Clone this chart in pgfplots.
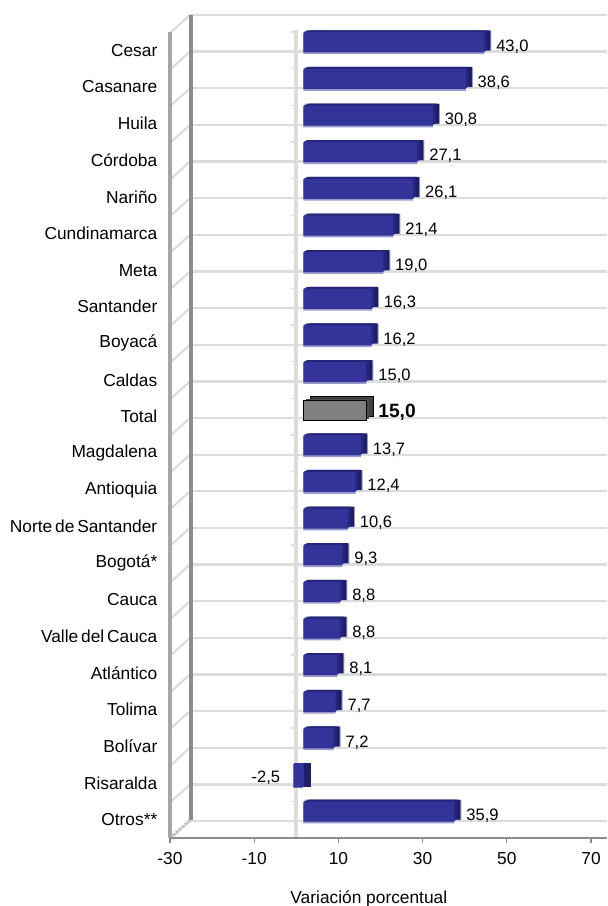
\documentclass[border=0pt]{standalone}
\usepackage{pgfplots}
\usepackage{pgfplotstable}
\usepackage{fontspec}
\setmainfont{Liberation Sans}
\pgfplotsset{compat=1.18}
\definecolor{barmain}{HTML}{333399}
\definecolor{bardark}{HTML}{25257A}
\definecolor{barside}{HTML}{1E1E66}
\definecolor{barlight}{HTML}{9999CC}
\definecolor{gridc}{HTML}{DCDCDC}
\definecolor{wall}{HTML}{8C8C8C}
\definecolor{wallb}{HTML}{A6A6A6}
\newcommand{\lblfont}{\fontsize{13}{15}\selectfont}
\newcommand{\valfont}{\fontsize{12.4}{15}\selectfont}
\pgfplotstableread{
v y
43.0 0
38.6 1
30.8 2
27.1 3
26.1 4
21.4 5
19.0 6
16.3 7
16.2 8
15.0 9
13.7 11
12.4 12
10.6 13
9.3 14
8.8 15
8.8 16
8.1 17
7.7 18
7.2 19
35.9 21
}\posdata
\pgfplotstableread{
v y
-2.5 20
}\negdata
\pgfplotstableread{
v y
15.0 10
}\totdata
\newcommand{\layer}[5][15pt]{% bar width; table, color, xshift, yshift
  \addplot[xbar, bar width=#1, draw=none, fill=#3, xshift=#4*0.75pt, yshift=#5*0.75pt, forget plot] table[x=v,y=y] {#2};}
\begin{document}
\begin{tikzpicture}[x=0.75pt,y=0.75pt]
\path[use as bounding box] (0,0) rectangle (607,906);
% back wall gridlines (py = 15 + 36.64 k)
\foreach \k in {0,...,22}{
  \pgfmathsetmacro{\py}{906-15-36.64*\k}
  \draw[gridc,line width=1.7pt] (190,\py) -- (607,\py);
  \draw[gridc,line width=1.6pt] (170,\py-18) -- (190,\py);
}
\draw[gridc!70!gray,line width=1.8pt,dash pattern=on 2pt off 1pt] (170,68) -- (190,86);
\draw[wall,line width=3pt] (190.5,891) -- (190.5,86);
\draw[gridc,line width=2.6pt] (296,876) -- (296,68);
\foreach \k in {0,...,21}{
  \pgfmathsetmacro{\py}{906-32-36.64*\k}
  \draw[gridc,line width=1pt] (291,\py) -- (296,\py);
}
\begin{axis}[
  at={(127.5pt,51pt)},anchor=south west,
  scale only axis,width=327.75pt,height=604.5pt,
  xmin=-30,xmax=73.8,ymin=-0.5,ymax=21.5,y dir=reverse,
  axis x line=bottom,axis y line=left,
  axis line style={-,wall,line width=2.2pt},
  y axis line style={-,wallb,line width=3pt},
  xtick={-30,-10,10,30,50,70},
  ytick={0,...,21},
  yticklabels={Cesar,Casanare,Huila,Córdoba,Nariño,Cundinamarca,Meta\hspace{4pt},Santander,Boyacá,Caldas,Total\hspace{5pt},Magdalena,Antioquia,Norte\,de\,Santander,Bogotá*,Cauca,Valle\,del\,Cauca,Atlántico,Tolima,Bolívar\hspace{4pt},Risaralda,Otros**},
  ytick style={draw=none},
  xtick style={wall,line width=1pt},
  tick align=outside,
  major tick length=4pt,
  /pgf/number format/assume math mode=true,
  xticklabel style={font=\lblfont,yshift=-3.5pt,/pgf/number format/fixed},
  yticklabel style={font=\lblfont,xshift=-2pt},
  xlabel={Variación porcentual},
  xlabel style={font=\lblfont,at={(axis description cs:0.455,0)},anchor=north,yshift=-36pt},
  clip=false,
  axis on top=false,
]
% positive bars
\layer{\posdata}{barlight}{7}{6.2}
\layer{\posdata}{barlight}{14}{9.5}
\layer{\posdata}{barside}{13}{10}
\layer{\posdata}{bardark}{10}{10}
\layer{\posdata}{bardark}{8}{9}
\layer{\posdata}{barmain}{7}{8}
% negative bar
\layer[18pt]{\negdata}{barside}{15}{8}
\layer[18pt]{\negdata}{barlight!60!barmain}{7}{7}
\layer[18pt]{\negdata}{barmain}{8}{8}
% total bar
\addplot[xbar,bar width=15pt,draw=black,line width=0.8pt,fill=black!75,xshift=14*0.75pt,yshift=10.5*0.75pt,forget plot] table[x=v,y=y] {\totdata};
\addplot[xbar,bar width=15pt,draw=none,fill=black!70,xshift=10*0.75pt,yshift=8*0.75pt,forget plot] table[x=v,y=y] {\totdata};
\addplot[xbar,bar width=15pt,draw=black,line width=1pt,fill=gray,xshift=7*0.75pt,yshift=6*0.75pt,forget plot] table[x=v,y=y] {\totdata};
% value labels
\pgfplotsset{vlabel/.style={only marks,mark=none,forget plot,point meta=x,nodes near coords,
  nodes near coords align={anchor=west},
  every node near coord/.append style={font=\valfont,inner sep=0pt,xshift=14pt,yshift=3pt,
    /pgf/number format/assume math mode=true,/pgf/number format/use comma,/pgf/number format/fixed,/pgf/number format/fixed zerofill,/pgf/number format/precision=1}}}
\addplot[vlabel] table[x=v,y=y] {\posdata};
\addplot[vlabel,every node near coord/.append style={font=\fontsize{14.4}{15}\selectfont\bfseries}] table[x=v,y=y] {\totdata};
\addplot[only marks,mark=none,forget plot,point meta=x,nodes near coords,
  nodes near coords align={anchor=east},
  every node near coord/.append style={font=\valfont,inner sep=0pt,xshift=-4pt,yshift=3.8pt,
    /pgf/number format/assume math mode=true,/pgf/number format/use comma,/pgf/number format/fixed,/pgf/number format/fixed zerofill,/pgf/number format/precision=1}] table[x=v,y=y] {\negdata};
\end{axis}
\end{tikzpicture}
\end{document}
